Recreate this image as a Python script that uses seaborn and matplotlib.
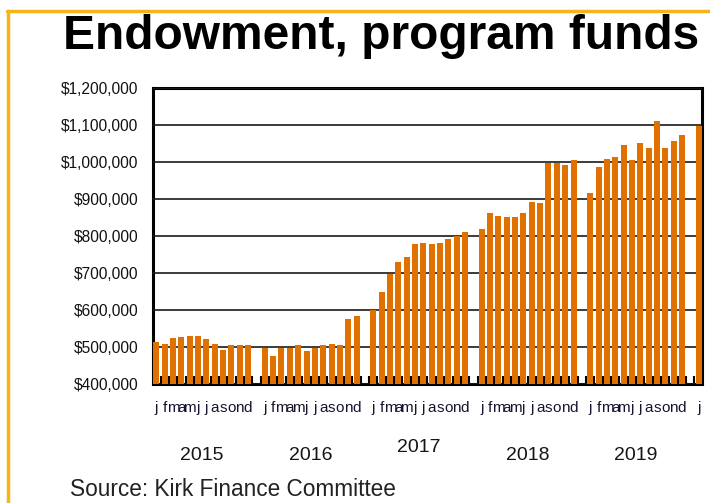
import numpy as np
import pandas as pd
import matplotlib
matplotlib.use("Agg")
import matplotlib.pyplot as plt
import seaborn as sns
from matplotlib.lines import Line2D
from matplotlib.transforms import blended_transform_factory

# Datos (fondos mensuales, en dolares)
years = ["2015", "2016", "2017", "2018", "2019"]
month_letters = ["j", "f", "m", "a", "m", "j", "j", "a", "s", "o", "n", "d"]
funds_2015 = [513000, 509000, 525000, 526000, 530000, 530000, 521000, 509000, 493000, 505000, 505000, 505000]
funds_2016 = [498000, 477000, 498000, 498000, 505000, 490000, 498000, 505000, 509000, 505000, 576000, 584000]
funds_2017 = [600000, 650000, 697000, 731000, 744000, 778000, 782000, 778000, 782000, 791000, 800000, 812000]
funds_2018 = [820000, 862000, 854000, 850000, 850000, 862000, 893000, 888000, 998000, 998000, 992000, 1005000]
funds_2019 = [916000, 987000, 1008000, 1013000, 1047000, 1006000, 1052000, 1038000, 1111000, 1038000, 1056000, 1072000]
funds_2020_jan = [1098000]
y_ticks = [400000, 500000, 600000, 700000, 800000, 900000, 1000000, 1100000, 1200000]

series = [funds_2015, funds_2016, funds_2017, funds_2018, funds_2019]

# Construir las casillas: 12 meses + una casilla vacia por anio, y enero 2020 al final
slots = []
rows = []
labels = []
for y, vals in zip(years, series):
    for m, v in enumerate(vals):
        name = f"{y}-{m + 1:02d}"
        slots.append(name)
        labels.append(month_letters[m])
        rows.append({"slot": name, "value": v})
    slots.append(f"gap-{y}")
    labels.append("")
slots.append("2020-01")
labels.append("j")
rows.append({"slot": "2020-01", "value": funds_2020_jan[0]})
df = pd.DataFrame(rows)

sns.set_theme(style="white")
plt.rcParams["font.family"] = ["Liberation Sans", "DejaVu Sans"]
fam = ["Liberation Sans", "DejaVu Sans"]

fig = plt.figure(figsize=(7.1, 5.03), dpi=100)
ax = fig.add_axes([153 / 710, 1 - 384 / 503, (702 - 153) / 710, (384 - 88) / 503])

sns.barplot(data=df, x="slot", y="value", order=slots, color="#E07000",
            saturation=1, width=0.72, edgecolor="none", ax=ax, zorder=3)

ax.set_ylim(400000, 1200000)
ax.set_xlim(-0.4, len(slots) - 0.6)
ax.set_yticks(y_ticks)
ax.set_yticklabels([f"${v:,.0f}" for v in y_ticks], fontsize=11.2, color="#111111", family=fam)
ax.yaxis.grid(True, color="#1a1a1a", linewidth=1.2, zorder=1)
ax.set_axisbelow(False)
for line in ax.get_ygridlines():
    line.set_zorder(2)

ax.set_xticks(range(len(slots)))
ax.set_xticklabels(labels, fontsize=11, color="#151530", family=fam)
ax.tick_params(axis="x", which="major", length=0, pad=12)
ax.tick_params(axis="y", which="major", length=0, pad=10.5)
ax.set_xticks(np.arange(len(slots) - 1) + 0.5, minor=True)
ax.tick_params(axis="x", which="minor", direction="in", length=6, width=1.5, color="black", bottom=True)
ax.set_xlabel("")
ax.set_ylabel("")

for sp in ax.spines.values():
    sp.set_visible(True)
    sp.set_color("black")
    sp.set_linewidth(2.2)

# Etiquetas de anio centradas bajo cada grupo
trans = blended_transform_factory(ax.transData, ax.transAxes)
for i, y in enumerate(years):
    ypos = -0.215 if y == "2017" else -0.24
    ax.text(i * 13 + 5.5, ypos, y, transform=trans, ha="center", va="center",
            fontsize=14, color="#151515", family=fam)

fig.text(381 / 710, 1 - 37 / 503, "Endowment, program funds", ha="center", va="center",
         fontsize=34.5, fontweight="bold", color="black", family=fam)
fig.text(70 / 710, 1 - 490 / 503, "Source: Kirk Finance Committee", ha="left", va="center",
         fontsize=16.3, color="#222222", family=fam)

# Marco dorado (solo arriba e izquierda visibles)
gold = "#F4B41A"
fig.add_artist(Line2D([7 / 710, 1], [1 - 11 / 503, 1 - 11 / 503], transform=fig.transFigure,
                      color=gold, linewidth=2.5))
fig.add_artist(Line2D([7.5 / 710, 7.5 / 710], [0, 1 - 11 / 503], transform=fig.transFigure,
                      color=gold, linewidth=2.5))

fig.savefig("out.png", dpi=100)
